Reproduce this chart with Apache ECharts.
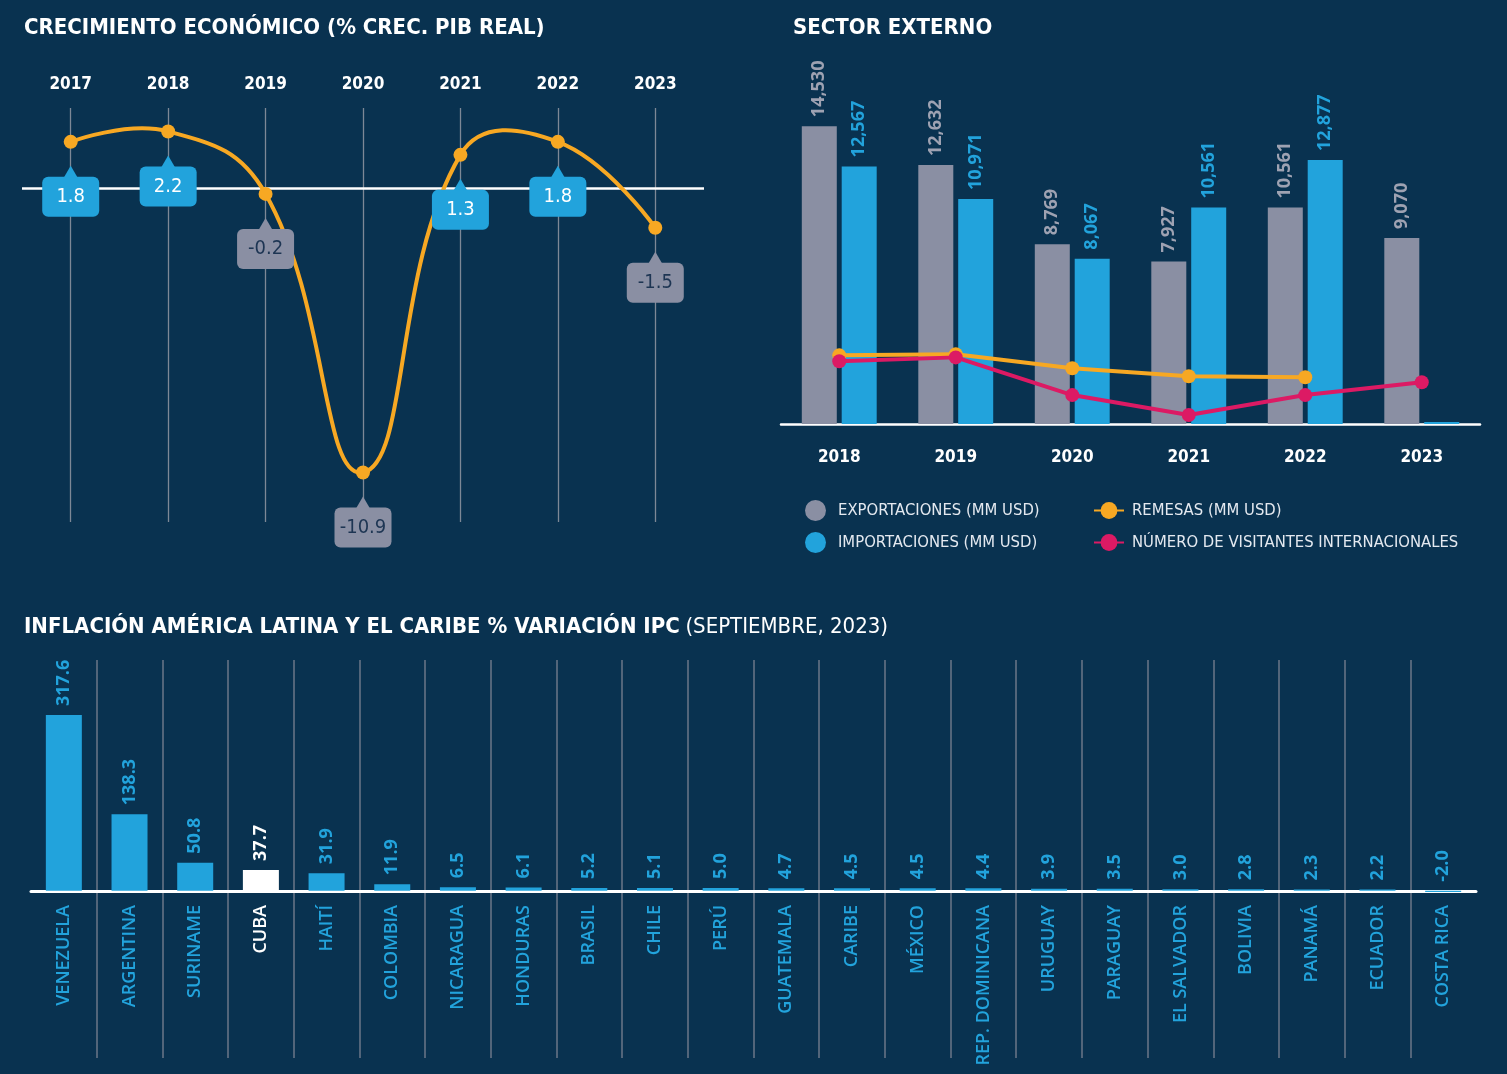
<!DOCTYPE html>
<html>
<head>
<meta charset="utf-8">
<title>Cuba - indicadores</title>
<script src="https://cdn.jsdelivr.net/npm/echarts@6/dist/echarts.min.js"></script>
<style>
  html, body { margin: 0; padding: 0; background: #093250; }
  #chart { width: 1507px; height: 1074px; }
</style>
</head>
<body>
<div id="chart"></div>
<script>
// --- Crecimiento económico (% crec. PIB real) ---
const gdpYears = ["2017", "2018", "2019", "2020", "2021", "2022", "2023"];
const gdpValues = [1.8, 2.2, -0.2, -10.9, 1.3, 1.8, -1.5];

// --- Sector externo ---
const extYears = ["2018", "2019", "2020", "2021", "2022", "2023"];
const exportValues = [14530, 12632, 8769, 7927, 10561, 9070];
const importValues = [12567, 10971, 8067, 10561, 12877, 0];
const remesasValues = [3350, 3400, 2720, 2330, 2280, null];
const visitorValues = [3060, 3250, 1410, 440, 1410, 2040];

// --- Inflación América Latina y el Caribe (sept. 2023) ---
const countries = [
  "VENEZUELA", "ARGENTINA", "SURINAME", "CUBA", "HAITÍ", "COLOMBIA",
  "NICARAGUA", "HONDURAS", "BRASIL", "CHILE", "PERÚ", "GUATEMALA",
  "CARIBE", "MÉXICO", "REP. DOMINICANA", "URUGUAY", "PARAGUAY",
  "EL SALVADOR", "BOLIVIA", "PANAMÁ", "ECUADOR", "COSTA RICA",
];
const inflationValues = [
  317.6, 138.3, 50.8, 37.7, 31.9, 11.9, 6.5, 6.1, 5.2, 5.1, 5.0, 4.7,
  4.5, 4.5, 4.4, 3.9, 3.5, 3.0, 2.8, 2.3, 2.2, -2.0,
];
const highlightCountry = "CUBA";

// Colors & fonts
const NAVY = "#093250";
const BLUE = "#22a3dc";
const GREY = "#8a8fa3";
const ORANGE = "#f7a823";
const MAGENTA = "#dc1a64";
const SEP = "#6b7788";
const NARROW = "'Liberation Sans Narrow', 'Arial Narrow', 'DejaVu Sans Condensed', sans-serif";
const SANS = "'Open Sans', 'DejaVu Sans', sans-serif";

const myChart = echarts.init(document.getElementById("chart"));

// shared style for rotated value labels on bars
function barLabel(color, size) {
  return {
    show: true,
    position: "top",
    rotate: 90,
    align: "left",
    verticalAlign: "middle",
    distance: 9,
    color: color,
    fontFamily: SANS,
    fontWeight: "bold",
    fontSize: size,
  };
}

const titleFont = { color: "#ffffff", fontSize: 22, fontWeight: "bold", fontFamily: NARROW };
const legendFont = { color: "#e4e9f0", fontSize: 16.5, fontFamily: NARROW, lineHeight: 21 };

const option = {
  backgroundColor: NAVY,
  animation: false,
  textStyle: { fontFamily: NARROW },
  title: [
    { text: "CRECIMIENTO ECONÓMICO (% CREC. PIB REAL)", left: 19, top: 12, textStyle: titleFont },
    { text: "SECTOR EXTERNO", left: 788, top: 12, textStyle: titleFont },
    {
      text: "{b|INFLACIÓN AMÉRICA LATINA Y EL CARIBE % VARIACIÓN IPC} {r|(SEPTIEMBRE, 2023)}",
      left: 19,
      top: 611,
      textStyle: {
        rich: {
          b: titleFont,
          r: Object.assign({}, titleFont, { fontWeight: "normal" }),
        },
      },
    },
  ],
  legend: [
    {
      orient: "vertical",
      left: 800,
      top: 495,
      icon: "circle",
      itemWidth: 21,
      itemHeight: 21,
      itemGap: 11,
      data: ["EXPORTACIONES (MM USD)", "IMPORTACIONES (MM USD)"],
      textStyle: Object.assign({ padding: [0, 0, 0, 7] }, legendFont),
    },
    {
      orient: "vertical",
      left: 1088,
      top: 495,
      itemWidth: 30,
      itemHeight: 21,
      itemGap: 11,
      data: ["REMESAS (MM USD)", "NÚMERO DE VISITANTES INTERNACIONALES"],
      textStyle: Object.assign({ padding: [0, 0, 0, 3] }, legendFont),
    },
  ],
  grid: [
    { left: 22, right: 803, top: 108, bottom: 552, outerBoundsMode: "none" },
    { left: 781, right: 27, top: 55, bottom: 650, outerBoundsMode: "none" },
    { left: 31, right: 31, top: 660, bottom: 181, outerBoundsMode: "none" },
    { left: 31, right: 31, top: 893, bottom: 16, outerBoundsMode: "none" },
  ],
  xAxis: [
    {
      gridIndex: 0,
      type: "category",
      position: "top",
      data: gdpYears,
      axisLine: { show: false, onZero: false },
      axisTick: { show: false },
      axisLabel: { color: "#ffffff", fontSize: 17, fontWeight: "bold", fontFamily: NARROW, margin: 15 },
    },
    {
      gridIndex: 1,
      type: "category",
      data: extYears,
      axisLine: { lineStyle: { color: "#ffffff", width: 2.5 } },
      axisTick: { show: false },
      axisLabel: { color: "#ffffff", fontSize: 17, fontWeight: "bold", fontFamily: NARROW, margin: 25 },
    },
    {
      gridIndex: 2,
      type: "category",
      data: countries,
      axisLine: { onZero: true, lineStyle: { color: "#ffffff", width: 3 } },
      axisTick: { show: false },
      axisLabel: {
        interval: 0,
        rotate: 90,
        margin: 12,
        fontSize: 18,
        fontWeight: 600,
        fontFamily: SANS,
        color: (value) => (value === highlightCountry ? "#ffffff" : BLUE),
      },
      splitLine: {
        show: true,
        interval: 0,
        showMinLine: false,
        showMaxLine: false,
        lineStyle: { color: SEP, width: 1.5 },
      },
    },
    {
      // lower part of the separators, below the country names' baseline
      gridIndex: 3,
      type: "category",
      data: countries,
      axisLine: { show: false },
      axisTick: { show: false },
      axisLabel: { show: false },
      splitLine: {
        show: true,
        interval: 0,
        showMinLine: false,
        showMaxLine: false,
        lineStyle: { color: SEP, width: 1.5 },
      },
    },
  ],
  yAxis: [
    { gridIndex: 0, type: "value", min: -12.8, max: 3.1, show: false },
    { gridIndex: 1, type: "value", min: 0, max: 18000, show: false },
    { gridIndex: 2, type: "value", min: -4, max: 417, show: false },
    { gridIndex: 3, type: "value", min: 0, max: 1, show: false },
  ],
  series: [
    // GDP curve (cardinal-type spline through the points, like the original)
    {
      type: "custom",
      xAxisIndex: 0,
      yAxisIndex: 0,
      silent: true,
      z: 2,
      data: gdpValues.map((v, i) => [i, v]),
      renderItem: (params, api) => {
        if (params.dataIndex !== 0) return null;
        const points = gdpValues.map((v, i) => api.coord([i, v]));
        return {
          type: "polyline",
          shape: { points: points, smooth: 0.45 },
          style: { stroke: ORANGE, lineWidth: 4, fill: null },
        };
      },
    },
    // GDP points with callout boxes
    {
      type: "scatter",
      xAxisIndex: 0,
      yAxisIndex: 0,
      symbol: "circle",
      symbolSize: 14,
      z: 3,
      itemStyle: { color: ORANGE, opacity: 1 },
      data: gdpValues.map((v) => ({
        value: v,
        label: {
          backgroundColor: v >= 0 ? BLUE : GREY,
          color: v >= 0 ? "#ffffff" : "#1d3553",
        },
      })),
      label: {
        show: true,
        position: "bottom",
        distance: 28,
        width: 57,
        height: 40,
        lineHeight: 40,
        align: "center",
        borderRadius: 6,
        fontSize: 20,
        fontFamily: NARROW,
        formatter: (p) => p.value.toFixed(1),
      },
      markLine: {
        silent: true,
        symbol: "none",
        z: 1,
        label: { show: false },
        data: [
          ...gdpYears.map((y) => ({ xAxis: y, lineStyle: { color: "#7d8896", width: 1.3, type: "solid" } })),
          { yAxis: 0, lineStyle: { color: "#ffffff", width: 2.5, type: "solid" } },
        ],
      },
    },
    // callout pointers
    {
      type: "scatter",
      xAxisIndex: 0,
      yAxisIndex: 0,
      symbol: "triangle",
      symbolSize: [14, 12],
      symbolOffset: [0, 30],
      silent: true,
      z: 4,
      data: gdpValues.map((v) => ({ value: v, itemStyle: { color: v >= 0 ? BLUE : GREY, opacity: 1 } })),
    },
    // Sector externo
    {
      name: "EXPORTACIONES (MM USD)",
      type: "bar",
      xAxisIndex: 1,
      yAxisIndex: 1,
      data: exportValues,
      barWidth: 35,
      barGap: "14%",
      itemStyle: { color: GREY },
      label: Object.assign(barLabel("#9ea2b2", 18), {
        formatter: (p) => (p.value ? p.value.toLocaleString("en-US") : ""),
      }),
    },
    {
      name: "IMPORTACIONES (MM USD)",
      type: "bar",
      xAxisIndex: 1,
      yAxisIndex: 1,
      data: importValues,
      barWidth: 35,
      barMinHeight: 2,
      itemStyle: { color: BLUE },
      label: Object.assign(barLabel(BLUE, 18), {
        formatter: (p) => (p.value ? p.value.toLocaleString("en-US") : ""),
      }),
    },
    {
      name: "REMESAS (MM USD)",
      type: "line",
      xAxisIndex: 1,
      yAxisIndex: 1,
      data: remesasValues,
      symbol: "circle",
      symbolSize: 14,
      z: 3,
      lineStyle: { color: ORANGE, width: 4 },
      itemStyle: { color: ORANGE },
    },
    {
      name: "NÚMERO DE VISITANTES INTERNACIONALES",
      type: "line",
      xAxisIndex: 1,
      yAxisIndex: 1,
      data: visitorValues,
      symbol: "circle",
      symbolSize: 14,
      z: 4,
      lineStyle: { color: MAGENTA, width: 4 },
      itemStyle: { color: MAGENTA },
    },
    // Inflación
    {
      type: "bar",
      xAxisIndex: 2,
      yAxisIndex: 2,
      barWidth: 36,
      data: inflationValues.map((v, i) => {
        const c = countries[i] === highlightCountry ? "#ffffff" : BLUE;
        return { value: v, itemStyle: { color: c }, label: { color: c } };
      }),
      label: Object.assign(barLabel(BLUE, 18), {
        formatter: (p) => p.value.toFixed(1),
      }),
    },
  ],
};

myChart.setOption(option);
</script>
</body>
</html>
